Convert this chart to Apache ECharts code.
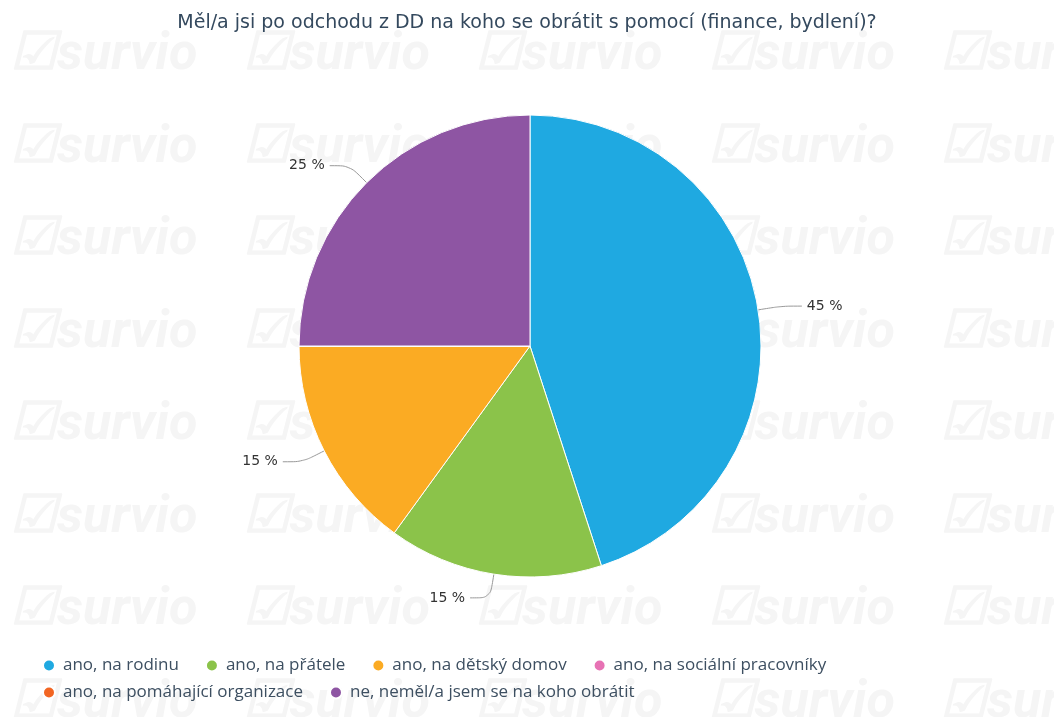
<!DOCTYPE html>
<html>
<head>
<meta charset="utf-8">
<script src="https://cdn.jsdelivr.net/npm/echarts@6/dist/echarts.min.js"></script>
<style>
  html, body { margin: 0; padding: 0; background: #fff; }
  #chart { width: 1054px; height: 717px; }
</style>
</head>
<body>
<div id="chart"></div>
<script>
const categories = [
  'ano, na rodinu',
  'ano, na přátele',
  'ano, na dětský domov',
  'ano, na sociální pracovníky',
  'ano, na pomáhající organizace',
  'ne, neměl/a jsem se na koho obrátit'
]
const values = [45, 15, 15, 0, 0, 25]
const colors = ['#1fa9e1', '#8bc34a', '#fbab23', '#e772b4', '#f26522', '#8e55a3']

// faint "survio" watermark tiles
const watermark = []
for (let r = 0; r < 8; r++) {
  for (let c = 0; c < 5; c++) {
    watermark.push({
      type: 'text',
      left: 10 + c * 232.5,
      top: 30 + r * 92.5,
      silent: true,
      z: -1,
      style: {
        text: '☑survio',
        fill: '#f5f5f5',
        font: 'italic bold 52px Roboto'
      }
    })
  }
}

const legendBase = {
  left: 37,
  icon: 'circle',
  itemWidth: 12,
  itemHeight: 12,
  itemGap: 26,
  textStyle: { color: '#3d4f61', fontSize: 17, fontFamily: 'Open Sans', padding: [0, 0, 0, 3] }
}

const chart = echarts.init(document.getElementById('chart'))
chart.setOption({
  backgroundColor: '#fff',
  color: colors,
  animation: false,
  title: {
    text: 'Měl/a jsi po odchodu z DD na koho se obrátit s pomocí (finance, bydlení)?',
    left: 'center',
    top: 9,
    textStyle: { color: '#34495e', fontSize: 19, fontWeight: 'normal', fontFamily: 'DejaVu Sans' }
  },
  graphic: watermark,
  legend: [
    Object.assign({}, legendBase, { top: 652, data: categories.slice(0, 4) }),
    Object.assign({}, legendBase, { top: 679, data: categories.slice(4) })
  ],
  series: [{
    type: 'pie',
    center: [530, 346],
    radius: 231,
    startAngle: 90,
    clockwise: true,
    avoidLabelOverlap: false,
    itemStyle: { borderColor: '#fff', borderWidth: 1 },
    label: {
      formatter: '{c} %',
      color: '#333',
      fontSize: 14,
      fontFamily: 'DejaVu Sans'
    },
    labelLine: { length: 24, length2: 20, smooth: 0.3, lineStyle: { color: '#999' } },
    data: categories.map((name, i) => ({
      name,
      value: values[i],
      label: { show: values[i] > 0 },
      labelLine: { show: values[i] > 0 }
    }))
  }]
})
</script>
</body>
</html>
